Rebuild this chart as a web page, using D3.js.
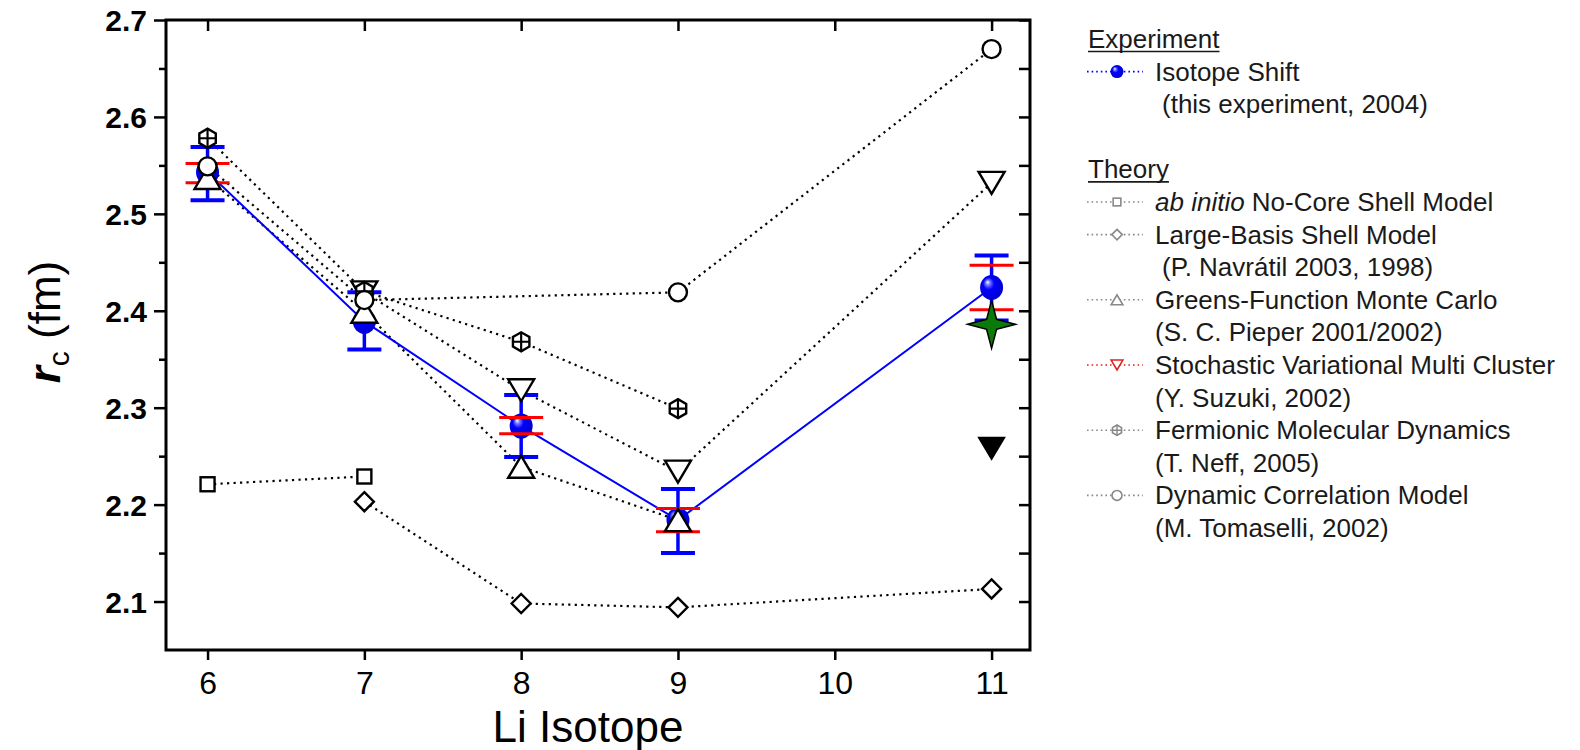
<!DOCTYPE html>
<html><head><meta charset="utf-8">
<script src="https://cdn.jsdelivr.net/npm/d3@7"></script>
<style>body{margin:0;background:#fff}</style>
</head><body>
<svg id="c" width="1580" height="750"></svg>
<script>
// ---------------- data ----------------
const isotopes = [6, 7, 8, 9, 11];
const expRadius = [2.543, 2.389, 2.281, 2.184, 2.424];
const expErrLow = [2.514, 2.360, 2.249, 2.150, 2.390];
const expErrHigh = [2.569, 2.419, 2.313, 2.216, 2.457];
const expStatLow = [2.532, null, 2.273, 2.172, 2.401];
const expStatHigh = [2.552, null, 2.290, 2.196, 2.447];

const ncsmX = [6, 7];          const ncsmY = [2.221, 2.229];
const lbsmX = [7, 8, 9, 11];   const lbsmY = [2.203, 2.098, 2.094, 2.113];
const gfmcX = [6, 7, 8, 9];    const gfmcY = [2.537, 2.399, 2.239, 2.184];
const svmcX = [7, 8, 9, 11];   const svmcY = [2.419, 2.318, 2.234, 2.532];
const fmdX = [6, 7, 8, 9];     const fmdY = [2.578, 2.420, 2.368, 2.299];
const dcmX = [6, 7, 9, 11];    const dcmY = [2.549, 2.411, 2.419, 2.670];
const extraTriX = [11];        const extraTriY = [2.258];
const starX = [11];            const starY = [2.386];

const xTicks = [6, 7, 8, 9, 10, 11];
const yTicks = [2.1, 2.2, 2.3, 2.4, 2.5, 2.6, 2.7];
const yMinorTicks = [2.15, 2.25, 2.35, 2.45, 2.55, 2.65];

const legendEntries = [
  {kind: "head", text: "Experiment"},
  {kind: "item", sym: "sphere", color: "#0000ff", text: "Isotope Shift"},
  {kind: "sub", text: "(this experiment, 2004)", indent: 7},
  {kind: "gap"},
  {kind: "head", text: "Theory"},
  {kind: "item", sym: "square", color: "#888", text: "No-Core Shell Model", italic: "ab initio"},
  {kind: "item", sym: "diamond", color: "#888", text: "Large-Basis Shell Model"},
  {kind: "sub", text: "(P. Navrátil 2003, 1998)", indent: 7},
  {kind: "item", sym: "tri", color: "#888", text: "Greens-Function Monte Carlo"},
  {kind: "sub", text: "(S. C. Pieper 2001/2002)", indent: 0},
  {kind: "item", sym: "dtri", color: "#e02020", text: "Stochastic Variational Multi Cluster"},
  {kind: "sub", text: "(Y. Suzuki, 2002)", indent: 0},
  {kind: "item", sym: "hex", color: "#888", text: "Fermionic Molecular Dynamics"},
  {kind: "sub", text: "(T. Neff, 2005)", indent: 0},
  {kind: "item", sym: "circle", color: "#888", text: "Dynamic Correlation Model"},
  {kind: "sub", text: "(M. Tomaselli, 2002)", indent: 0}
];

// ---------------- layout ----------------
const L = 166, R = 1030, T = 20, B = 650;
const x = d3.scaleLinear().domain([5.735, 11.245]).range([L, R]);
const y = d3.scaleLinear().domain([2.05, 2.7]).range([B, T]);
const svg = d3.select("#c");
const FONT = "'Liberation Sans', Arial, Helvetica, sans-serif";

// gradient for spheres
const defs = svg.append("defs");
const g1 = defs.append("radialGradient").attr("id", "sph")
  .attr("cx", "0.45").attr("cy", "0.45").attr("r", "0.6")
  .attr("fx", "0.32").attr("fy", "0.28");
g1.append("stop").attr("offset", "0").attr("stop-color", "#ffffff");
g1.append("stop").attr("offset", "0.16").attr("stop-color", "#7a7aff");
g1.append("stop").attr("offset", "0.4").attr("stop-color", "#0000ff");
g1.append("stop").attr("offset", "1").attr("stop-color", "#0000c8");

// ---------------- axes ----------------
const axG = svg.append("g").attr("font-family", FONT);
function styleAxis(g) {
  g.select(".domain").remove();
  g.selectAll(".tick line").attr("stroke", "#000").attr("stroke-width", 2.5);
}
axG.append("g").attr("transform", `translate(${L},0)`)
  .call(d3.axisLeft(y).tickValues(yTicks).tickSize(12).tickPadding(7).tickFormat(d3.format(".1f")))
  .call(styleAxis)
  .call(g => g.selectAll("text").attr("font-size", 30).attr("font-weight", "bold")
    .attr("font-family", FONT).attr("fill", "#000").attr("dy", "0.36em"));
axG.append("g").attr("transform", `translate(${L},0)`)
  .call(d3.axisLeft(y).tickValues(yMinorTicks).tickSize(7).tickFormat(""))
  .call(styleAxis);
axG.append("g").attr("transform", `translate(${R},0)`)
  .call(d3.axisRight(y).tickValues(yTicks.concat(yMinorTicks)).tickSize(-11).tickFormat(""))
  .call(styleAxis);
axG.append("g").attr("transform", `translate(0,${T})`)
  .call(d3.axisTop(x).tickValues(xTicks).tickSize(-11).tickFormat(""))
  .call(styleAxis);
axG.append("g").attr("transform", `translate(0,${B})`)
  .call(d3.axisBottom(x).tickValues(xTicks).tickSize(10).tickPadding(11).tickFormat(d3.format("d")))
  .call(styleAxis)
  .call(g => g.selectAll("text").attr("font-size", 32)
    .attr("font-family", FONT).attr("fill", "#000"));
// frame
svg.append("rect").attr("x", L).attr("y", T).attr("width", R - L).attr("height", B - T)
  .attr("fill", "none").attr("stroke", "#000").attr("stroke-width", 3);

// axis titles
svg.append("text").attr("x", 588).attr("y", 742).attr("text-anchor", "middle")
  .attr("font-family", FONT).attr("font-size", 44).attr("fill", "#000").text("Li Isotope");
const yt = svg.append("text").attr("transform", "translate(60,322) rotate(-90)")
  .attr("text-anchor", "middle").attr("font-family", FONT).attr("font-size", 44).attr("fill", "#000");
yt.append("tspan").attr("font-style", "italic").attr("font-weight", "bold").text("r");
yt.append("tspan").attr("font-size", 30).attr("dy", 9).text("c");
yt.append("tspan").attr("dy", -9).text(" (fm)");

// ---------------- markers ----------------
function drawSym(g, sym, cx, cy, s, stroke, fill, sw) {
  const k = s;
  if (sym === "square") {
    g.append("rect").attr("x", cx - 7 * k).attr("y", cy - 7 * k).attr("width", 14 * k).attr("height", 14 * k)
      .attr("fill", fill).attr("stroke", stroke).attr("stroke-width", sw);
  } else if (sym === "diamond") {
    const r = 9.5 * k;
    g.append("path").attr("d", `M${cx},${cy - r}L${cx + r},${cy}L${cx},${cy + r}L${cx - r},${cy}Z`)
      .attr("fill", fill).attr("stroke", stroke).attr("stroke-width", sw);
  } else if (sym === "tri") {
    const w = 13 * k, h = 11 * k;
    g.append("path").attr("d", `M${cx},${cy - h}L${cx + w},${cy + h}L${cx - w},${cy + h}Z`)
      .attr("fill", fill).attr("stroke", stroke).attr("stroke-width", sw).attr("stroke-linejoin", "miter");
  } else if (sym === "dtri") {
    const w = 13 * k, h = 11 * k;
    g.append("path").attr("d", `M${cx - w},${cy - h}L${cx + w},${cy - h}L${cx},${cy + h}Z`)
      .attr("fill", fill).attr("stroke", stroke).attr("stroke-width", sw);
  } else if (sym === "circle") {
    g.append("circle").attr("cx", cx).attr("cy", cy).attr("r", 9 * k)
      .attr("fill", fill).attr("stroke", stroke).attr("stroke-width", sw);
  } else if (sym === "hex") {
    const r = 9.5 * k;
    const pts = d3.range(6).map(i => {
      const a = Math.PI / 3 * i + Math.PI / 6;
      return [cx + r * Math.cos(a), cy + r * Math.sin(a)];
    });
    g.append("path").attr("d", "M" + pts.map(p => p.join(",")).join("L") + "Z")
      .attr("fill", fill).attr("stroke", stroke).attr("stroke-width", sw);
    g.append("path").attr("d", `M${cx - r * 0.85},${cy}L${cx + r * 0.85},${cy}M${cx},${cy - r}L${cx},${cy + r}`)
      .attr("stroke", stroke).attr("stroke-width", sw * 0.9).attr("fill", "none");
  } else if (sym === "sphere") {
    g.append("ellipse").attr("cx", cx).attr("cy", cy).attr("rx", 11.5 * k).attr("ry", 12.5 * k)
      .attr("fill", "url(#sph)");
  }
}

// dotted theory lines
const lineGen = d3.line().x(d => x(d[0])).y(d => y(d[1]));
const theory = [
  {xs: ncsmX, ys: ncsmY, sym: "square"},
  {xs: lbsmX, ys: lbsmY, sym: "diamond"},
  {xs: gfmcX, ys: gfmcY, sym: "tri"},
  {xs: svmcX, ys: svmcY, sym: "dtri"},
  {xs: fmdX, ys: fmdY, sym: "hex"},
  {xs: dcmX, ys: dcmY, sym: "circle"}
];
const lines = svg.append("g");
theory.forEach(t => {
  lines.append("path").attr("d", lineGen(t.xs.map((v, i) => [v, t.ys[i]])))
    .attr("fill", "none").attr("stroke", "#000").attr("stroke-width", 2.2)
    .attr("stroke-dasharray", "2.2,4.3");
});
// experiment line
lines.append("path").attr("d", lineGen(isotopes.map((v, i) => [v, expRadius[i]])))
  .attr("fill", "none").attr("stroke", "#0000ff").attr("stroke-width", 2);

// error bars
const eb = svg.append("g");
isotopes.forEach((v, i) => {
  const cx = x(v);
  eb.append("line").attr("x1", cx).attr("x2", cx).attr("y1", y(expErrLow[i])).attr("y2", y(expErrHigh[i]))
    .attr("stroke", "#0000ff").attr("stroke-width", 3.5);
  [expErrLow[i], expErrHigh[i]].forEach(e => {
    eb.append("line").attr("x1", cx - 17).attr("x2", cx + 17).attr("y1", y(e)).attr("y2", y(e))
      .attr("stroke", "#0000ff").attr("stroke-width", 4);
  });
});
isotopes.forEach((v, i) => drawSym(eb, "sphere", x(v), y(expRadius[i]), 1));
isotopes.forEach((v, i) => {
  if (expStatLow[i] == null) return;
  const cx = x(v);
  [expStatLow[i], expStatHigh[i]].forEach(e => {
    eb.append("line").attr("x1", cx - 22).attr("x2", cx + 22).attr("y1", y(e)).attr("y2", y(e))
      .attr("stroke", "#ff0000").attr("stroke-width", 3);
  });
});

// theory markers
const mk = svg.append("g");
theory.forEach(t => {
  t.xs.forEach((v, i) => drawSym(mk, t.sym, x(v), y(t.ys[i]), 1, "#000", "#fff", 2.4));
});
extraTriX.forEach((v, i) => drawSym(mk, "dtri", x(v), y(extraTriY[i]), 1, "#000", "#000", 1.5));
starX.forEach((v, i) => {
  const cx = x(v), cy = y(starY[i]);
  const a = 24, b = 5;
  const d = `M${cx},${cy - a}L${cx + b},${cy - b}L${cx + a},${cy}L${cx + b},${cy + b}L${cx},${cy + a}L${cx - b},${cy + b}L${cx - a},${cy}L${cx - b},${cy - b}Z`;
  mk.append("path").attr("d", d).attr("fill", "#0b7a0b").attr("stroke", "#000").attr("stroke-width", 1.5)
    .attr("stroke-linejoin", "miter");
});

// ---------------- legend ----------------
const lg = svg.append("g").attr("font-family", FONT).attr("font-size", 26).attr("fill", "#1a1a1a");
let by = 48;
const step = 32.6;
legendEntries.forEach(e => {
  if (e.kind === "head") {
    const t = lg.append("text").attr("x", 1088).attr("y", by).text(e.text);
    const w = t.node().getComputedTextLength();
    lg.append("line").attr("x1", 1088).attr("x2", 1088 + w).attr("y1", by + 3.5).attr("y2", by + 3.5)
      .attr("stroke", "#1a1a1a").attr("stroke-width", 1.6);
  } else if (e.kind === "item") {
    const sy = by - 9;
    const col = e.color;
    lg.append("line").attr("x1", 1087).attr("x2", 1143).attr("y1", sy).attr("y2", sy)
      .attr("stroke", col).attr("stroke-width", 1.6).attr("stroke-dasharray", "1.6,3");
    if (e.sym === "sphere") {
      lg.append("circle").attr("cx", 1117).attr("cy", sy).attr("r", 6.5).attr("fill", "url(#sph)");
    } else {
      drawSym(lg, e.sym, 1117, sy, e.sym === "tri" || e.sym === "dtri" ? 0.45 : 0.55, col, "#fff", 1.6);
    }
    const t = lg.append("text").attr("x", 1155).attr("y", by);
    if (e.italic) {
      t.append("tspan").attr("font-style", "italic").text(e.italic + " ");
    }
    t.append("tspan").text(e.text);
  } else if (e.kind === "sub") {
    lg.append("text").attr("x", 1155 + e.indent).attr("y", by).text(e.text);
  }
  by += step;
});
</script>
</body></html>
